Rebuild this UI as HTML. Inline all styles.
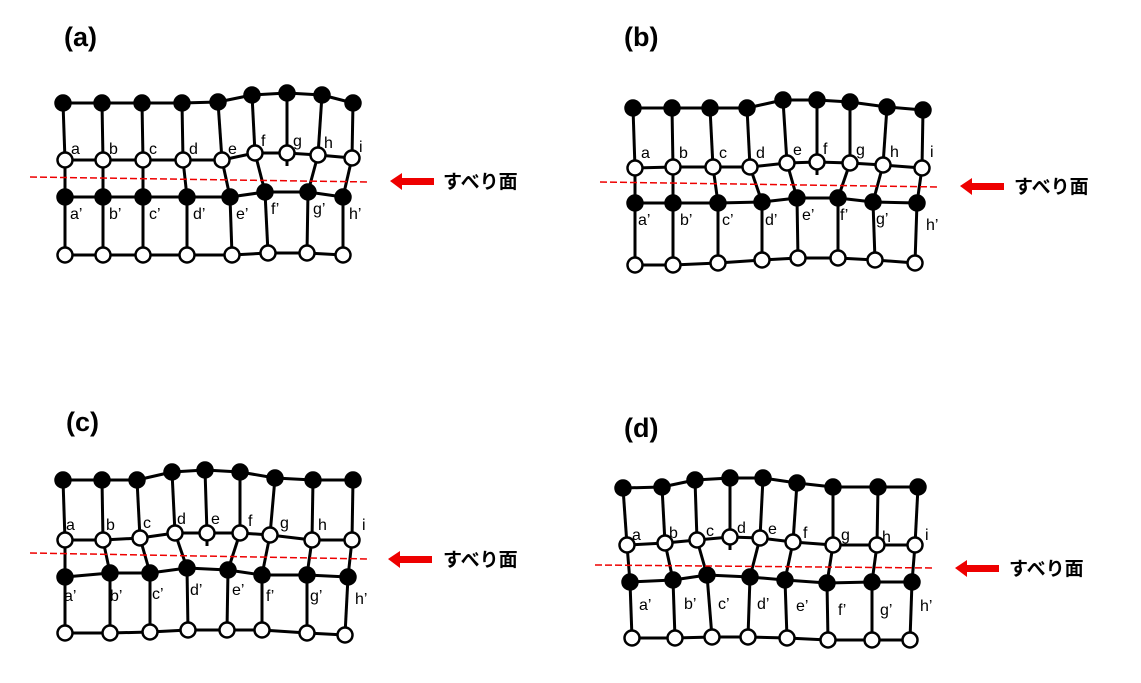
<!DOCTYPE html>
<html><head><meta charset="utf-8"><style>
html,body{margin:0;padding:0;background:#fff;width:1141px;height:683px;overflow:hidden}
svg text{font-family:"Liberation Sans","Noto Sans CJK JP",sans-serif;fill:#000}
.l{font-size:16px}
.t{font-size:27px;font-weight:bold}
.s{font-size:19px;font-weight:bold}
</style></head><body>
<svg id="s" width="1141" height="683" viewBox="0 0 1141 683" xmlns="http://www.w3.org/2000/svg">
<g id="g"></g>
<text class="t" x="64" y="46">(a)</text>
<text class="t" x="624" y="46">(b)</text>
<text class="t" x="66" y="431">(c)</text>
<text class="t" x="624" y="437">(d)</text>

<polygon points="390,181 402,173 402,178 434,178 434,185 402,185 402,190" fill="#ee0000"/>
<text class="s" x="443" y="188">すべり面</text>
<polygon points="960,186 972,178 972,183 1004,183 1004,190 972,190 972,195" fill="#ee0000"/>
<text class="s" x="1014" y="193">すべり面</text>
<polygon points="388,559 400,551 400,556 432,556 432,563 400,563 400,568" fill="#ee0000"/>
<text class="s" x="443" y="566">すべり面</text>
<polygon points="955,568 967,560 967,565 999,565 999,572 967,572 967,577" fill="#ee0000"/>
<text class="s" x="1009" y="575">すべり面</text>

<g class="l">
<text x="71" y="154">a</text><text x="109" y="154">b</text><text x="149" y="154">c</text><text x="189" y="154">d</text><text x="228" y="154">e</text><text x="261" y="146">f</text><text x="293" y="146">g</text><text x="324" y="148">h</text><text x="359" y="152">i</text>
<text x="70" y="219">a’</text><text x="109" y="219">b’</text><text x="149" y="219">c’</text><text x="193" y="219">d’</text><text x="236" y="219">e’</text><text x="271" y="214">f’</text><text x="313" y="214">g’</text><text x="349" y="219">h’</text>

<text x="641" y="158">a</text><text x="679" y="158">b</text><text x="719" y="158">c</text><text x="756" y="158">d</text><text x="793" y="155">e</text><text x="823" y="154">f</text><text x="856" y="155">g</text><text x="890" y="157">h</text><text x="930" y="157">i</text>
<text x="638" y="225">a’</text><text x="680" y="225">b’</text><text x="722" y="225">c’</text><text x="765" y="225">d’</text><text x="802" y="220">e’</text><text x="840" y="220">f’</text><text x="876" y="224">g’</text><text x="926" y="230">h’</text>

<text x="66" y="530">a</text><text x="106" y="530">b</text><text x="143" y="528">c</text><text x="177" y="524">d</text><text x="211" y="524">e</text><text x="248" y="526">f</text><text x="280" y="528">g</text><text x="318" y="530">h</text><text x="362" y="530">i</text>
<text x="64" y="601">a’</text><text x="110" y="601">b’</text><text x="152" y="599">c’</text><text x="190" y="595">d’</text><text x="232" y="595">e’</text><text x="266" y="601">f’</text><text x="310" y="601">g’</text><text x="355" y="604">h’</text>

<text x="632" y="540">a</text><text x="669" y="538">b</text><text x="706" y="536">c</text><text x="737" y="533">d</text><text x="768" y="534">e</text><text x="803" y="538">f</text><text x="841" y="540">g</text><text x="882" y="542">h</text><text x="925" y="540">i</text>
<text x="639" y="610">a’</text><text x="684" y="609">b’</text><text x="718" y="609">c’</text><text x="757" y="609">d’</text><text x="796" y="611">e’</text><text x="838" y="615">f’</text><text x="880" y="615">g’</text><text x="920" y="611">h’</text>
</g>
</svg>
<script>
var P=[
{r1:[[63,103],[102,103],[142,103],[182,103],[218,102],[252,95],[287,93],[322,95],[353,103]],
 r2:[[65,160],[103,160],[143,160],[183,160],[222,160],[255,153],[287,153],[318,155],[352,158]],
 r3:[[65,197],[103,197],[143,197],[187,197],[230,197],[265,192],[308,192],[343,197]],
 r4:[[65,255],[103,255],[143,255],[187,255],[232,255],[268,253],[307,253],[343,255]],
 map:[0,1,2,3,4,5,-1,6,7],tick:6,red:[30,177,370,182]},
{r1:[[633,108],[672,108],[710,108],[747,108],[783,100],[817,100],[850,102],[887,107],[923,110]],
 r2:[[635,168],[673,167],[713,167],[750,167],[787,163],[817,162],[850,163],[883,165],[922,168]],
 r3:[[635,203],[673,203],[718,203],[762,202],[797,198],[838,198],[873,202],[917,203]],
 r4:[[635,265],[673,265],[718,263],[762,260],[798,258],[838,258],[875,260],[915,263]],
 map:[0,1,2,3,4,-1,5,6,7],tick:5,red:[600,182,940,187]},
{r1:[[63,480],[102,480],[137,480],[172,472],[205,470],[240,472],[275,478],[313,480],[353,480]],
 r2:[[65,540],[103,540],[140,538],[175,533],[207,533],[240,533],[270,535],[312,540],[352,540]],
 r3:[[65,577],[110,573],[150,573],[187,568],[228,570],[262,575],[307,575],[348,577]],
 r4:[[65,633],[110,633],[150,632],[188,630],[227,630],[262,630],[307,633],[345,635]],
 map:[0,1,2,3,-1,4,5,6,7],tick:4,red:[30,553,370,559]},
{r1:[[623,488],[662,487],[695,480],[730,478],[763,478],[797,483],[833,487],[878,487],[918,487]],
 r2:[[627,545],[665,543],[697,540],[730,537],[760,538],[793,542],[833,545],[877,545],[915,545]],
 r3:[[630,582],[673,580],[707,575],[750,577],[785,580],[827,583],[872,582],[912,582]],
 r4:[[632,638],[675,638],[712,637],[748,637],[787,638],[828,640],[872,640],[910,640]],
 map:[0,1,2,-1,3,4,5,6,7],tick:3,red:[595,565,935,568]}];
var g=document.getElementById('g'),L='',N='';
function ln(a,b){L+='<line x1="'+a[0]+'" y1="'+a[1]+'" x2="'+b[0]+'" y2="'+b[1]+'" stroke="#000" stroke-width="3"/>';}
function row(r){for(var i=0;i<r.length-1;i++)ln(r[i],r[i+1]);}
function nd(p,f){N+='<circle cx="'+p[0]+'" cy="'+p[1]+'" r="7.5" fill="'+(f?'#000':'#fff')+'" stroke="#000" stroke-width="2.5"/>';}
P.forEach(function(p){
 row(p.r1);row(p.r2);row(p.r3);row(p.r4);
 for(var i=0;i<9;i++)ln(p.r1[i],p.r2[i]);
 p.map.forEach(function(j,i){if(j>=0)ln(p.r2[i],p.r3[j]);});
 var t=p.r2[p.tick];ln(t,[t[0],t[1]+13]);
 for(var i=0;i<8;i++)ln(p.r3[i],p.r4[i]);
 p.r1.forEach(function(q){nd(q,1)});p.r2.forEach(function(q){nd(q,0)});
 p.r3.forEach(function(q){nd(q,1)});p.r4.forEach(function(q){nd(q,0)});
 var r=p.red;N+='<line x1="'+r[0]+'" y1="'+r[1]+'" x2="'+r[2]+'" y2="'+r[3]+'" stroke="#ee0000" stroke-width="1.5" stroke-dasharray="7,3"/>';
});
g.innerHTML=L+N;
</script>
</body></html>
